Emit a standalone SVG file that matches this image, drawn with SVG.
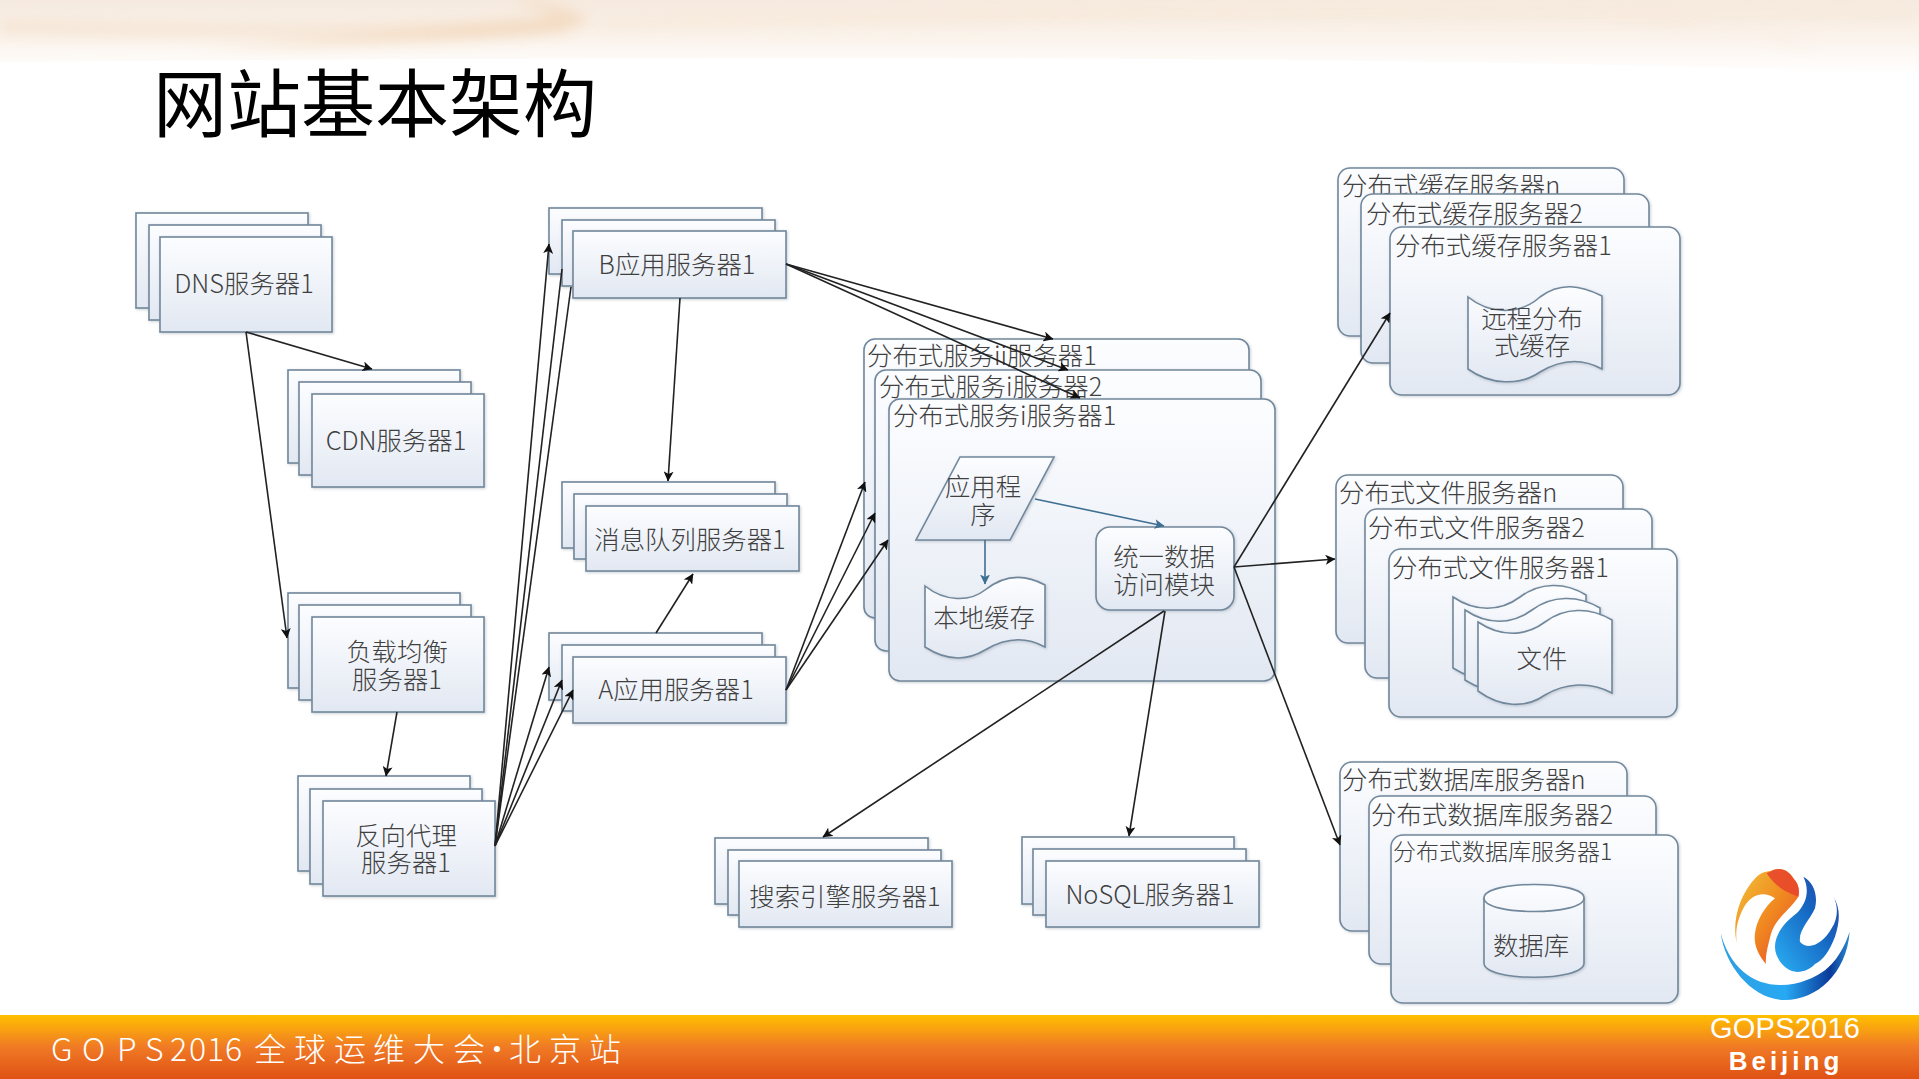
<svg xmlns="http://www.w3.org/2000/svg" width="1919" height="1079" viewBox="0 0 1919 1079">
<style>
text{font-family:"Noto Sans CJK SC","Noto Sans",sans-serif;fill:#404040;font-size:25.4px;font-weight:300}
.m{text-anchor:middle}
.s{font-size:23px}
.b{fill:url(#boxg);stroke:#71879b;stroke-width:1.6;filter:url(#sh)}
.c{stroke:#222;stroke-width:1.6;fill:none;marker-end:url(#ah)}
.n{stroke:#222;stroke-width:1.6;fill:none}
.u{stroke:#3f6f92;stroke-width:1.6;fill:none;marker-end:url(#au)}
</style>
<defs>
<linearGradient id="boxg" x1="0" y1="0" x2="0" y2="1"><stop offset="0" stop-color="#fcfdff"/><stop offset="1" stop-color="#e2e8f2"/></linearGradient>
<linearGradient id="foot" x1="0" y1="0" x2="0" y2="1"><stop offset="0" stop-color="#ffc000"/><stop offset=".5" stop-color="#f07a25"/><stop offset="1" stop-color="#df5114"/></linearGradient>
<linearGradient id="head" x1="0" y1="0" x2="0" y2="1"><stop offset="0" stop-color="#f6eadf"/><stop offset=".55" stop-color="#fbf4ed"/><stop offset="1" stop-color="#ffffff"/></linearGradient>
<linearGradient id="lo" x1="0" y1="0" x2="1" y2="1"><stop offset="0" stop-color="#f2c33a"/><stop offset=".5" stop-color="#f08a20"/><stop offset="1" stop-color="#e8432c"/></linearGradient>
<linearGradient id="lb" x1="0" y1="1" x2="1" y2="0"><stop offset="0" stop-color="#2bb0f5"/><stop offset=".6" stop-color="#1565c0"/><stop offset="1" stop-color="#2c3fa0"/></linearGradient>
<linearGradient id="lc" x1="0" y1="0" x2="1" y2="0"><stop offset="0" stop-color="#2f9fe0"/><stop offset=".5" stop-color="#27a9f3"/><stop offset=".85" stop-color="#0a3a9a"/><stop offset="1" stop-color="#2a8ad0"/></linearGradient>
<filter id="sh" x="-5%" y="-5%" width="110%" height="110%"><feDropShadow dx="1" dy="1" stdDeviation="1.5" flood-color="#8894a0" flood-opacity=".45"/></filter>
<filter id="bl" x="-20%" y="-200%" width="140%" height="500%"><feGaussianBlur stdDeviation="7"/></filter>
<marker id="ah" viewBox="0 0 10 10" refX="9.5" refY="5" markerWidth="10" markerHeight="10" markerUnits="userSpaceOnUse" orient="auto"><path d="M0 0L10 5L0 10L2.5 5Z" fill="#111"/></marker>
<marker id="au" viewBox="0 0 10 10" refX="9.5" refY="5" markerWidth="10" markerHeight="10" markerUnits="userSpaceOnUse" orient="auto"><path d="M0 0L10 5L0 10L2.5 5Z" fill="#3f6f92"/></marker>
</defs>
<rect width="1919" height="1079" fill="#fff"/>
<g id="header">
<path d="M0 0H1919V74Q1500 58 900 58Q400 58 0 62Z" fill="url(#head)"/>
<path d="M0 20Q300 28 560 22L570 32Q300 40 0 34Z" fill="#f1d7bb" opacity=".45" filter="url(#bl)"/>
<path d="M510 0Q575 5 590 22Q575 38 210 48Q430 28 560 18Z" fill="#eec9a2" opacity=".5" filter="url(#bl)"/>
<path d="M1600 18Q1740 24 1815 48L1740 30Z" fill="#ecc4a8" opacity=".6" filter="url(#bl)"/>
<path d="M600 18Q1100 6 1919 12V20Q1200 14 600 30Z" fill="#f6e2cc" opacity=".45" filter="url(#bl)"/>
<text x="153" y="131" style="font-size:74px;fill:#000;font-weight:400">网站基本架构</text>
</g>
<g id="footer">
<rect y="1015" width="1919" height="64" fill="url(#foot)"/>
<text x="51 82 117 145 170 189 207 225 254 294 334 373 413 453 481 509 549 589" y="1061" style="font-size:32px;fill:#fff">GOPS2016全球运维大会·北京站</text>
<text x="1785" y="1038" text-anchor="middle" textLength="150" style="font-family:'Liberation Sans',sans-serif;font-size:29px;fill:#fff;font-weight:400">GOPS2016</text>
<text x="1786" y="1070" text-anchor="middle" style="font-family:'Liberation Sans',sans-serif;font-size:26px;letter-spacing:4px;font-weight:bold;fill:#fff">Beijing</text>
</g>
<g id="logo" transform="translate(1600 840) scale(.3333)">
<path d="M362 278C375 380 460 480 555 480C650 480 740 400 749 275C725 345 690 395 620 420C560 445 480 440 430 395C395 365 372 320 362 278Z" fill="url(#lc)"/>
<path d="M410 308C395 240 420 160 470 110C490 92 510 95 520 90C545 80 570 95 580 115C595 130 600 150 595 170C570 210 525 235 512 285C505 315 495 345 498 372C475 345 460 315 465 280C470 240 495 200 525 175C490 150 450 165 430 205C415 235 405 265 410 308Z" fill="url(#lo)"/>
<path d="M500 100C510 95 515 93 520 90C545 80 570 95 580 115C595 130 600 150 595 170C565 158 530 145 500 100Z" fill="#e8432c" opacity=".85"/>
<path d="M610 110C640 125 655 165 645 205C630 240 595 270 600 305C625 335 670 310 695 265C715 235 715 195 700 170C720 200 722 240 705 290C690 330 670 360 645 372C625 395 585 405 560 385C540 370 525 345 525 320C525 285 550 250 590 220C620 190 630 150 610 110Z" fill="url(#lb)"/>
</g>
<g id="dns">
<rect class="b" x="136" y="213" width="172" height="95"/><rect class="b" x="149" y="225" width="172" height="95"/><rect class="b" x="160" y="237" width="172" height="95"/>
<text class="m" x="244" y="293">DNS服务器1</text></g>
<g id="cdn">
<rect class="b" x="288" y="370" width="172" height="93"/><rect class="b" x="299" y="382" width="172" height="93"/><rect class="b" x="312" y="394" width="172" height="93"/>
<text class="m" x="396" y="450">CDN服务器1</text></g>
<g id="lb">
<rect class="b" x="288" y="593" width="172" height="95"/><rect class="b" x="299" y="605" width="172" height="95"/><rect class="b" x="312" y="617" width="172" height="95"/>
<text class="m" x="397" y="661">负载均衡</text><text class="m" x="397" y="689">服务器1</text></g>
<g id="proxy">
<rect class="b" x="298" y="776" width="172" height="95"/><rect class="b" x="310" y="789" width="172" height="95"/><rect class="b" x="323" y="801" width="172" height="95"/>
<text class="m" x="406" y="845">反向代理</text><text class="m" x="406" y="872">服务器1</text></g>
<g id="appb">
<rect class="b" x="549" y="208" width="213" height="66"/><rect class="b" x="562" y="220" width="213" height="66"/><rect class="b" x="573" y="231" width="213" height="67"/>
<text class="m" x="677" y="274">B应用服务器1</text></g>
<g id="mq">
<rect class="b" x="562" y="482" width="213" height="66"/><rect class="b" x="574" y="494" width="213" height="65"/><rect class="b" x="586" y="506" width="213" height="65"/>
<text class="m" x="690" y="549">消息队列服务器1</text></g>
<g id="appa">
<rect class="b" x="549" y="633" width="213" height="67"/><rect class="b" x="562" y="645" width="213" height="66"/><rect class="b" x="573" y="657" width="213" height="66"/>
<text class="m" x="676" y="699">A应用服务器1</text></g>
<g id="search">
<rect class="b" x="715" y="838" width="213" height="66"/><rect class="b" x="728" y="850" width="213" height="65"/><rect class="b" x="739" y="861" width="213" height="66"/>
<text class="m" x="845" y="906">搜索引擎服务器1</text></g>
<g id="nosql">
<rect class="b" x="1022" y="837" width="212" height="67"/><rect class="b" x="1033" y="849" width="213" height="66"/><rect class="b" x="1046" y="861" width="213" height="66"/>
<text class="m" x="1150" y="904">NoSQL服务器1</text></g>
<g id="dist">
<rect class="b" x="864" y="339" width="385" height="279" rx="11"/><text x="867" y="365">分布式服务ii服务器1</text>
<rect class="b" x="875" y="370" width="386" height="281" rx="11"/><text x="879" y="396">分布式服务i服务器2</text>
<rect class="b" x="889" y="399" width="386" height="282" rx="11"/><text x="893" y="425">分布式服务i服务器1</text>
</g>
<g id="app"><path class="b" d="M960 457H1054L1010 540H916Z"/><text class="m" x="983" y="496">应用程</text><text class="m" x="983" y="524">序</text></g>
<g id="localcache"><path class="b" d="M925 586C945 602 970 602 985 590C1005 574 1025 574 1045 585V647C1025 636 1005 638 985 650C965 662 945 660 925 647Z"/><text class="m" x="984" y="627">本地缓存</text></g>
<g id="dao"><rect class="b" x="1096" y="527" width="138" height="83" rx="14"/><text class="m" x="1164" y="566">统一数据</text><text class="m" x="1164" y="594">访问模块</text></g>
<g id="cache">
<rect class="b" x="1338" y="168" width="286" height="168" rx="12"/><text x="1342" y="195">分布式缓存服务器n</text>
<rect class="b" x="1361" y="194" width="288" height="169" rx="12"/><text x="1366" y="223">分布式缓存服务器2</text>
<rect class="b" x="1390" y="227" width="290" height="168" rx="12"/><text x="1395" y="255">分布式缓存服务器1</text>
<path class="b" d="M1468 297C1490 315 1520 315 1540 297C1560 282 1580 285 1602 296V369C1580 357 1560 360 1540 372C1520 386 1490 385 1468 369Z"/>
<text class="m" x="1532" y="328">远程分布</text><text class="m" x="1532" y="355">式缓存</text></g>
<g id="file">
<rect class="b" x="1336" y="475" width="287" height="168" rx="12"/><text x="1339" y="502">分布式文件服务器n</text>
<rect class="b" x="1365" y="509" width="287" height="169" rx="12"/><text x="1368" y="537">分布式文件服务器2</text>
<rect class="b" x="1389" y="549" width="288" height="168" rx="12"/><text x="1392" y="577">分布式文件服务器1</text>
<path class="b" d="M1453 597C1475 612 1500 612 1520 597C1540 582 1565 582 1586 595V668C1565 656 1540 658 1520 670C1500 684 1475 682 1453 668Z"/>
<path class="b" d="M1465 610C1487 625 1512 625 1532 610C1552 595 1578 595 1600 608V680C1578 668 1552 670 1532 682C1512 696 1487 694 1465 680Z"/>
<path class="b" d="M1478 622C1500 637 1525 637 1545 622C1565 607 1590 607 1612 620V693C1590 681 1565 683 1545 695C1525 709 1500 707 1478 691Z"/>
<text class="m" x="1542" y="668">文件</text></g>
<g id="db">
<rect class="b" x="1340" y="762" width="287" height="169" rx="12"/><text x="1342" y="789">分布式数据库服务器n</text>
<rect class="b" x="1369" y="796" width="287" height="168" rx="12"/><text x="1371" y="824">分布式数据库服务器2</text>
<rect class="b" x="1391" y="835" width="287" height="168" rx="12"/><text class="s" x="1393" y="860">分布式数据库服务器1</text>
<path class="b" d="M1484 898C1484 880 1584 880 1584 898V963C1584 982 1484 982 1484 963Z"/><path d="M1484 898C1484 916 1584 916 1584 898" fill="none" stroke="#71879b" stroke-width="1.6"/>
<text class="m" x="1531" y="955">数据库</text></g>
<g id="connectors">
<path class="c" d="M246 332L372 369"/>
<path class="c" d="M246 332L287 638"/>
<path class="c" d="M397 712L386 776"/>
<path class="c" d="M495 846L549 244"/>
<path class="n" d="M495 846L562 269"/>
<path class="n" d="M495 846L571 287"/>
<path class="c" d="M495 846L549 667"/>
<path class="c" d="M495 846L562 680"/>
<path class="c" d="M495 846L573 690"/>
<path class="c" d="M680 298L668 481"/>
<path class="c" d="M656 633L693 574"/>
<path class="c" d="M786 264L1053 339"/>
<path class="c" d="M786 264L1068 370"/>
<path class="c" d="M786 264L1080 398"/>
<path class="c" d="M786 690L865 482"/>
<path class="c" d="M786 690L875 513"/>
<path class="c" d="M786 690L888 540"/>
<path class="u" d="M1035 499L1164 526"/>
<path class="u" d="M985 540V584"/>
<path class="c" d="M1164 611L823 837"/>
<path class="c" d="M1165 611L1129 836"/>
<path class="c" d="M1234 567L1390 313"/>
<path class="c" d="M1234 567L1335 559"/>
<path class="c" d="M1234 567L1340 845"/>
</g>
</svg>
